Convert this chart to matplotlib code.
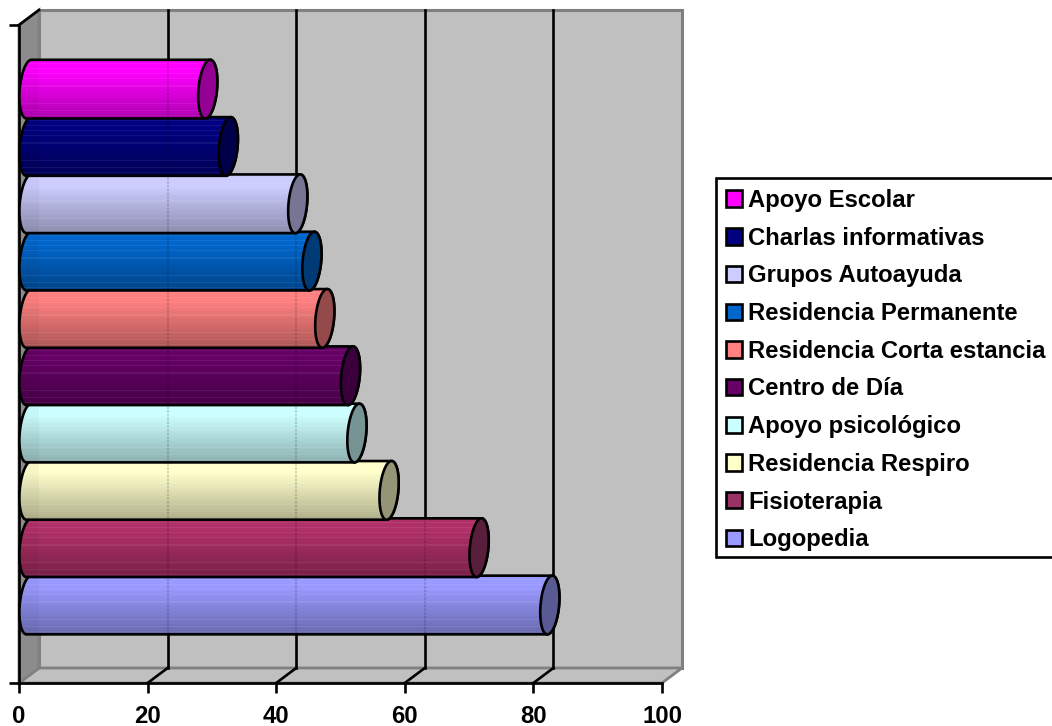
import numpy as np
import matplotlib
matplotlib.use("Agg")
import matplotlib.pyplot as plt
from matplotlib.patches import Polygon, Rectangle

# ---------- data (top to bottom, as in the legend) ----------
labels = ["Apoyo Escolar", "Charlas informativas", "Grupos Autoayuda",
          "Residencia Permanente", "Residencia Corta estancia", "Centro de Día",
          "Apoyo psicológico", "Residencia Respiro", "Fisioterapia", "Logopedia"]
values = [27.8, 31, 41.8, 44, 46, 50, 51, 56, 70, 81]
colors = ["#FF00FF", "#000080", "#CCCCFF", "#0066CC", "#FF8080",
          "#660066", "#CCFFFF", "#FFFFCC", "#993366", "#9999FF"]
body_colors = ["#FF00FF", "#000080", "#CCCCFF", "#0066CC", "#FF8080",
               "#660066", "#CCFFFF", "#FFFFCC", "#B03068", "#9999FF"]
x_ticks = [0, 20, 40, 60, 80, 100]

plt.rcParams['font.family'] = ['Liberation Sans', 'DejaVu Sans']
W, H = 1052, 726
fig = plt.figure(figsize=(W / 100, H / 100), dpi=100)
L, R, B, T = 19, 662, 683, 25          # front plane, pixels from top-left
ax = fig.add_axes([L / W, 1 - B / H, (R - L) / W, (B - T) / H])
PITCH = 57.33
PX = (R - L) / 100
y_lo, y_hi = -1.23, 10.25
ax.set_xlim(0, 100)
ax.set_ylim(y_lo, y_hi)

dep_x, dep_y = 20 / PX, 15 / PITCH     # depth vector of the 3-D box
GRAY = "#808080"
WALL = "#C0C0C0"
LW = 1.9

# box
kw = dict(clip_on=False, zorder=0.5)
ax.add_patch(Rectangle((dep_x, y_lo + dep_y), 100, y_hi - y_lo, fc=WALL, ec=GRAY, lw=2.2, **kw))
ax.add_patch(Polygon([(0, y_lo), (dep_x, y_lo + dep_y), (100 + dep_x, y_lo + dep_y), (100, y_lo)],
                     fc=WALL, ec=GRAY, lw=2.0, **kw))
ax.add_patch(Polygon([(0, y_lo), (dep_x, y_lo + dep_y), (dep_x, y_hi + dep_y), (0, y_hi)],
                     fc="#8C8C8C", ec=GRAY, lw=2.0, **kw))
# gridlines (back wall and floor)
for v in x_ticks[1:-1]:
    ax.plot([v + dep_x] * 2, [y_lo + dep_y, y_hi + dep_y], color="k", lw=LW, clip_on=False, zorder=0.7)
    ax.plot([v, v + dep_x], [y_lo, y_lo + dep_y], color="k", lw=LW, clip_on=False, zorder=0.7)
ax.plot([0, dep_x], [y_hi, y_hi + dep_y], color="k", lw=LW, clip_on=False, zorder=0.7)

# cylinders
Vy = 0.495
Dx, Dy = 9.6 / PX, 7.5 / PITCH
t_top = np.arctan2(Dy, Vy)
ramp_s = np.array([0, 0.12, 0.25, 0.5, 0.85, 1.0])
ramp_f = np.array([0.92, 1.0, 1.0, 0.88, 0.72, 0.56])
N_ROWS = 58
stripe_rows = [8, 12, 16, 20, 26, 40, 46, 50]
rows = np.linspace(0, 1, N_ROWS)
shade = np.interp(rows, ramp_s, ramp_f)[:, None, None]
stripe = np.zeros((N_ROWS, 1, 1))
stripe[stripe_rows] = 0.07


def ring(t, cx, cy):
    return np.column_stack([cx + Dx * np.sin(t), cy + Vy * np.cos(t) + Dy * np.sin(t)])


n = len(values)
for i in range(n - 1, -1, -1):
    pos = n - 1 - i
    val = values[i]
    col = matplotlib.colors.to_rgb(colors[i])
    bcol = matplotlib.colors.to_rgb(body_colors[i])
    z = 2 + (pos * 0.1)
    cy = pos + dep_y / 2
    x0 = dep_x / 2
    x1 = val + dep_x / 2
    left = ring(np.linspace(np.pi + t_top, 2 * np.pi + t_top, 60), x0, cy)
    right = ring(np.linspace(t_top, np.pi + t_top, 60), x1, cy)
    body = np.vstack([right, left])
    clip = Polygon(body, closed=True, transform=ax.transData)
    img = np.array(bcol)[None, None, :] * shade
    img = img * (1 - stripe) + stripe
    top = cy + Vy + Dy
    bot = cy - Vy - Dy
    im = ax.imshow(img, extent=[x0 - Dx - 1, x1 + Dx + 1, bot, top], aspect="auto",
                   origin="upper", interpolation="nearest", zorder=z)
    im.set_clip_path(clip)
    # back-wall region seen through the bar, and the dashed gridlines behind it
    over = ax.add_patch(Rectangle((0 - 2, bot), 2 + dep_x, top - bot, fc="k", alpha=0.03, lw=0,
                                  zorder=z + 0.01))
    over.set_clip_path(clip)
    for v in x_ticks[1:-1]:
        ln, = ax.plot([v + dep_x] * 2, [bot, top], color="k", lw=1.5, alpha=0.15,
                      dashes=(1.2, 0.6), zorder=z + 0.01)
        ln.set_clip_path(clip)
    ax.add_patch(Polygon(body, closed=True, fc="none", ec="k", lw=LW, clip_on=False, zorder=z + 0.02))
    # capping ellipse
    cap = ring(np.linspace(0, 2 * np.pi, 120), x1, cy)
    ax.add_patch(Polygon(cap, closed=True, fc=tuple(c * 0.58 for c in col), ec="k", lw=LW,
                         clip_on=False, zorder=z + 0.04))

ax.set_xlim(0, 100)
ax.set_ylim(y_lo, y_hi)
ax.patch.set_visible(False)

# axes
for s in ("top", "right"):
    ax.spines[s].set_visible(False)
for s in ("left", "bottom"):
    ax.spines[s].set_linewidth(LW)
    ax.spines[s].set_zorder(1.5)
ax.set_xticks(x_ticks)
ax.set_yticks([y_lo, y_hi])
ax.set_yticklabels([])
ax.tick_params(axis="both", length=7.5, width=LW, color="k")
ax.tick_params(axis="x", pad=8)
for t in ax.get_xticklabels():
    t.set_fontsize(17.2)
    t.set_fontweight("bold")

# legend: box drawn to the reference's size, entries placed by fig.legend
fig.add_artist(Rectangle((716 / W, 1 - 557 / H), 340 / W, 379 / H, transform=fig.transFigure,
                         fc="w", ec="k", lw=LW, zorder=1))
handles = [Rectangle((0, 0), 1, 1, fc=c, ec="k", lw=LW) for c in colors]
leg = fig.legend(handles, labels, loc="upper left", bbox_to_anchor=(716 / W, 1 - 179 / H),
                 bbox_transform=fig.transFigure, borderaxespad=0, frameon=False,
                 prop={"size": 17.2, "weight": "bold"}, handlelength=0.68, handleheight=0.68,
                 handletextpad=0.25, labelspacing=0.615, borderpad=0.42)
leg.set_zorder(2)

fig.savefig("out.png", dpi=100)
